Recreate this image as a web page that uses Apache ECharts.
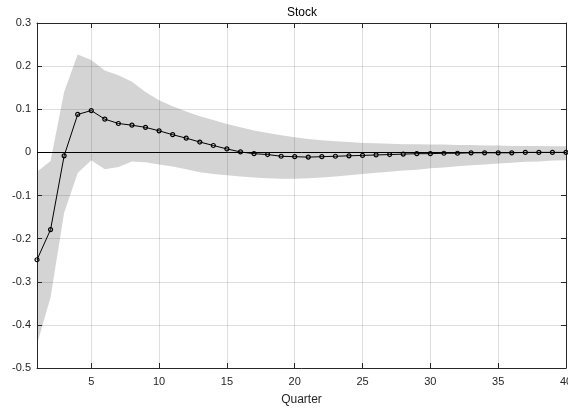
<!DOCTYPE html>
<html><head><meta charset="utf-8">
<script src="https://cdn.jsdelivr.net/npm/echarts@6/dist/echarts.min.js"></script>
<style>html,body{margin:0;padding:0;background:#fff}#c{width:568px;height:411px}</style>
</head><body><div id="c"></div>
<script>
const quarters = Array.from({length:40},(_,i)=>i+1);
const response = [-0.249,-0.179,-0.008,0.088,0.097,0.077,0.067,0.063,0.058,0.050,0.041,0.033,0.024,0.016,0.008,0.001,-0.003,-0.005,-0.009,-0.010,-0.011,-0.010,-0.009,-0.008,-0.007,-0.006,-0.005,-0.004,-0.003,-0.003,-0.002,-0.002,-0.001,-0.001,-0.001,-0.001,0,0,0,0];
const upper = [-0.045,-0.02,0.14,0.227,0.214,0.19,0.179,0.164,0.14,0.121,0.107,0.095,0.084,0.075,0.066,0.058,0.051,0.045,0.040,0.035,0.031,0.028,0.026,0.024,0.022,0.021,0.020,0.019,0.019,0.018,0.018,0.017,0.017,0.016,0.016,0.015,0.015,0.015,0.014,0.014];
const lower = [-0.445,-0.336,-0.14,-0.048,-0.018,-0.039,-0.034,-0.021,-0.023,-0.028,-0.033,-0.039,-0.046,-0.050,-0.053,-0.056,-0.058,-0.060,-0.061,-0.061,-0.060,-0.058,-0.056,-0.053,-0.050,-0.047,-0.045,-0.042,-0.040,-0.037,-0.035,-0.032,-0.030,-0.028,-0.026,-0.024,-0.022,-0.021,-0.019,-0.018];
const xTicks = [5,10,15,20,25,30,35,40];
const titleText = 'Stock';
const xName = 'Quarter';

const font = 'Liberation Sans, Arial, Helvetica, sans-serif';
const axisCol = '#262626';
const gridCol = 'rgba(38,38,38,0.15)';
const chart = echarts.init(document.getElementById('c'), null, {renderer:'canvas'});
const xBase = {
  type:'value', min:1, max:40, z:2,
  axisLine:{show:true, onZero:false, lineStyle:{color:axisCol, width:1}},
  axisTick:{show:true, inside:true, length:5, customValues:xTicks, lineStyle:{color:axisCol}},
  axisLabel:{show:true, customValues:xTicks, color:'#262626', fontFamily:font, fontSize:11, margin:8},
  splitLine:{show:true, lineStyle:{color:gridCol, width:1}}
};
const yBase = {
  type:'value', min:-0.5, max:0.3, interval:0.1, z:2,
  axisLine:{show:true, onZero:false, lineStyle:{color:axisCol, width:1}},
  axisTick:{show:true, inside:true, length:5, lineStyle:{color:axisCol}},
  axisLabel:{show:true, color:'#262626', fontFamily:font, fontSize:11, margin:6,
    formatter:v=>{const r=Math.round(v*10)/10; return r===0?'0':String(r);}},
  splitLine:{show:true, lineStyle:{color:gridCol, width:1}}
};
const bandData = quarters.map((q,i)=>[q, lower[i], upper[i]]);
chart.setOption({
  animation:false,
  backgroundColor:'#fff',
  title:{text:titleText, left:297, top:2, textAlign:'center',
    textStyle:{fontFamily:font, fontSize:12, fontWeight:'normal', color:'#000'}},
  grid:{left:37, right:2, top:23, bottom:43, containLabel:false, outerBoundsMode:'none'},
  xAxis:[
    Object.assign({}, xBase, {position:'bottom', name:xName, nameLocation:'middle', nameGap:26,
      nameTextStyle:{fontFamily:font, fontSize:12, color:'#262626'}}),
    Object.assign({}, xBase, {position:'top', axisLabel:{show:false}, splitLine:{show:false}})
  ],
  yAxis:[
    Object.assign({}, yBase, {position:'left'}),
    Object.assign({}, yBase, {position:'right', axisLabel:{show:false}, splitLine:{show:false}})
  ],
  series:[
    {type:'custom', name:'band', data:bandData, silent:true, z:1,
      encode:{x:0, y:[1,2]},
      renderItem:function(params, api){
        if (params.dataIndex !== 0) return null;
        const top = bandData.map(d=>api.coord([d[0], d[2]]));
        const bot = bandData.slice().reverse().map(d=>api.coord([d[0], d[1]]));
        return {type:'polygon', shape:{points: top.concat(bot)}, style:{fill:'#d4d4d4', stroke:null}};
      }},
    {type:'line', name:'response', data:quarters.map((q,i)=>[q,response[i]]),
      symbol:'circle', symbolSize:4, showSymbol:true,
      lineStyle:{color:'#000', width:1}, itemStyle:{color:'rgba(0,0,0,0)', borderColor:'#000', borderWidth:1.2},
      markLine:{silent:true, symbol:'none', label:{show:false}, lineStyle:{color:'#000', width:1, type:'solid'},
        data:[{yAxis:0}]},
      z:3}
  ]
});
</script></body></html>
